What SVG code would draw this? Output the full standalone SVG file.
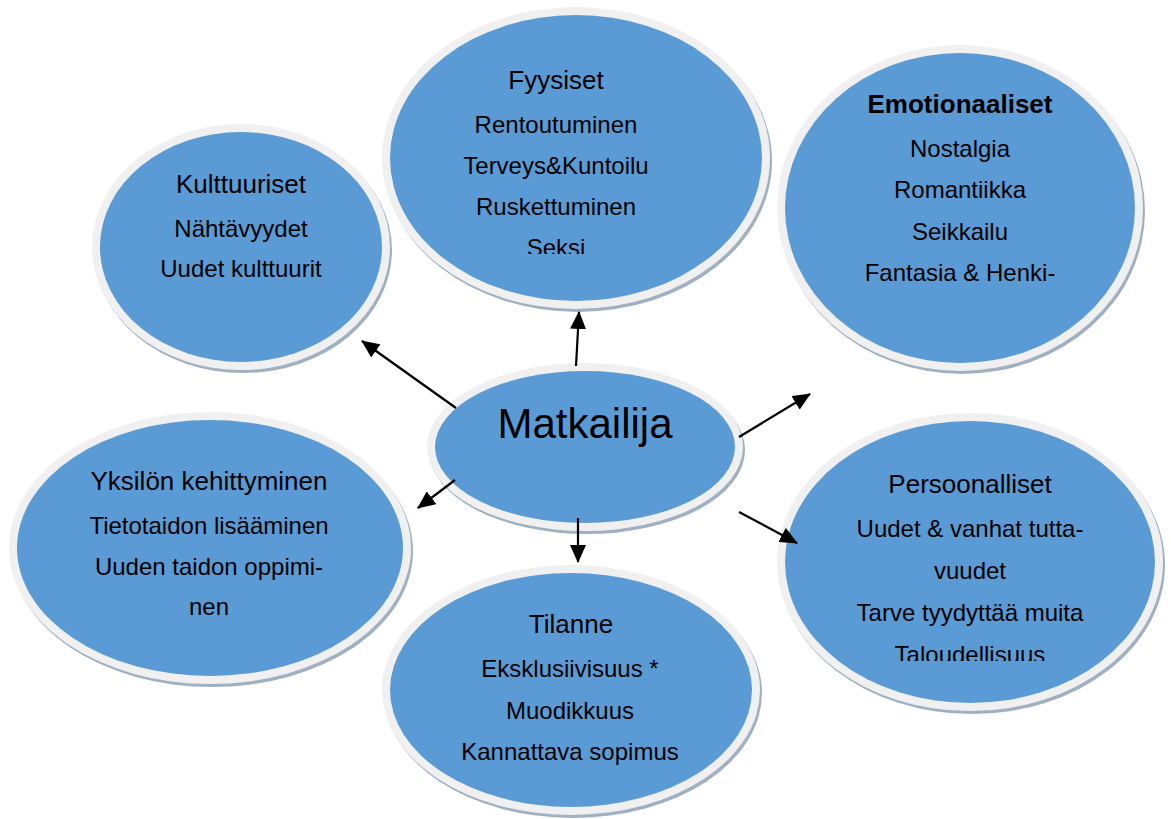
<svg xmlns="http://www.w3.org/2000/svg" width="1171" height="819" viewBox="0 0 1171 819">
<style>
.sh{fill:#9fb0c2}
.rim{fill:#f0f0f0}
.body{fill:#5b9bd5}
text{font-family:"Liberation Sans",Arial,sans-serif;fill:#000;text-anchor:middle}
.t{font-size:26px}
.tb{font-size:26px;font-weight:bold}
.i{font-size:24px}
.big{font-size:42px}
.c{stroke:#000;stroke-width:2.2;fill:none;marker-end:url(#ah)}
</style>
<defs>
<marker id="ah" markerUnits="userSpaceOnUse" markerWidth="18" markerHeight="16" viewBox="0 0 18 16" refX="17" refY="8" orient="auto">
<path d="M0,0 L18,8 L0,16 Z" fill="#000"/>
</marker>
<clipPath id="clipF"><rect x="380" y="0" width="400" height="254"/></clipPath>
<clipPath id="clipP"><rect x="770" y="400" width="400" height="261"/></clipPath>
</defs>
<rect width="1171" height="819" fill="#fff"/>

<g id="kulttuuriset">
<ellipse class="sh" cx="243" cy="250" rx="149" ry="123"/>
<ellipse class="rim" cx="241" cy="247" rx="149" ry="123"/>
<ellipse class="body" cx="241" cy="247" rx="141" ry="115"/>
<text class="t" x="241" y="193">Kulttuuriset</text>
<text class="i" x="241" y="237">Nähtävyydet</text>
<text class="i" x="241" y="277">Uudet kulttuurit</text>
</g>

<g id="fyysiset">
<ellipse class="sh" cx="578" cy="161" rx="194" ry="151"/>
<ellipse class="rim" cx="576" cy="158" rx="194" ry="151"/>
<ellipse class="body" cx="576" cy="158" rx="186" ry="143"/>
<text class="t" x="556" y="89">Fyysiset</text>
<g clip-path="url(#clipF)">
<text class="i" x="556" y="133">Rentoutuminen</text>
<text class="i" x="556" y="174">Terveys&amp;Kuntoilu</text>
<text class="i" x="556" y="215">Ruskettuminen</text>
<text class="i" x="556" y="256">Seksi</text>
</g>
</g>

<g id="emotionaaliset">
<ellipse class="sh" cx="962" cy="211" rx="183" ry="163"/>
<ellipse class="rim" cx="960" cy="208" rx="183" ry="163"/>
<ellipse class="body" cx="960" cy="208" rx="175" ry="155"/>
<text class="tb" x="960" y="113">Emotionaaliset</text>
<text class="i" x="960" y="157">Nostalgia</text>
<text class="i" x="960" y="198">Romantiikka</text>
<text class="i" x="960" y="240">Seikkailu</text>
<text class="i" x="960" y="281">Fantasia &amp; Henki-</text>
</g>

<g id="yksilon">
<ellipse class="sh" cx="212" cy="551" rx="201" ry="136"/>
<ellipse class="rim" cx="210" cy="548" rx="201" ry="136"/>
<ellipse class="body" cx="210" cy="548" rx="193" ry="128"/>
<text class="t" x="209" y="490">Yksilön kehittyminen</text>
<text class="i" x="209" y="534">Tietotaidon lisääminen</text>
<text class="i" x="209" y="575">Uuden taidon oppimi-</text>
<text class="i" x="209" y="615">nen</text>
</g>

<g id="persoonalliset">
<ellipse class="sh" cx="972" cy="565" rx="193" ry="149"/>
<ellipse class="rim" cx="970" cy="562" rx="193" ry="149"/>
<ellipse class="body" cx="970" cy="562" rx="185" ry="141"/>
<text class="t" x="970" y="493">Persoonalliset</text>
<text class="i" x="970" y="537">Uudet &amp; vanhat tutta-</text>
<text class="i" x="970" y="579">vuudet</text>
<text class="i" x="970" y="621">Tarve tyydyttää muita</text>
<g clip-path="url(#clipP)">
<text class="i" x="970" y="663">Taloudellisuus</text>
</g>
</g>

<g id="tilanne">
<ellipse class="sh" cx="573" cy="693" rx="189" ry="125"/>
<ellipse class="rim" cx="571" cy="690" rx="189" ry="125"/>
<ellipse class="body" cx="571" cy="690" rx="181" ry="117"/>
<text class="t" x="571" y="633">Tilanne</text>
<text class="i" x="570" y="677">Eksklusiivisuus *</text>
<text class="i" x="570" y="719">Muodikkuus</text>
<text class="i" x="570" y="760">Kannattava sopimus</text>
</g>

<g id="matkailija">
<ellipse class="sh" cx="587" cy="450" rx="158" ry="84"/>
<ellipse class="rim" cx="585" cy="447" rx="158" ry="84"/>
<ellipse class="body" cx="585" cy="447" rx="150" ry="76"/>
<text class="big" x="585" y="438">Matkailija</text>
</g>

<g id="connectors">
<line class="c" x1="576" y1="366" x2="579" y2="312"/>
<line class="c" x1="456" y1="408" x2="362" y2="341"/>
<line class="c" x1="739" y1="437" x2="810" y2="394"/>
<line class="c" x1="739" y1="512" x2="797" y2="543"/>
<line class="c" x1="578" y1="518" x2="578" y2="562"/>
<line class="c" x1="455" y1="480" x2="418" y2="508"/>
</g>
</svg>
